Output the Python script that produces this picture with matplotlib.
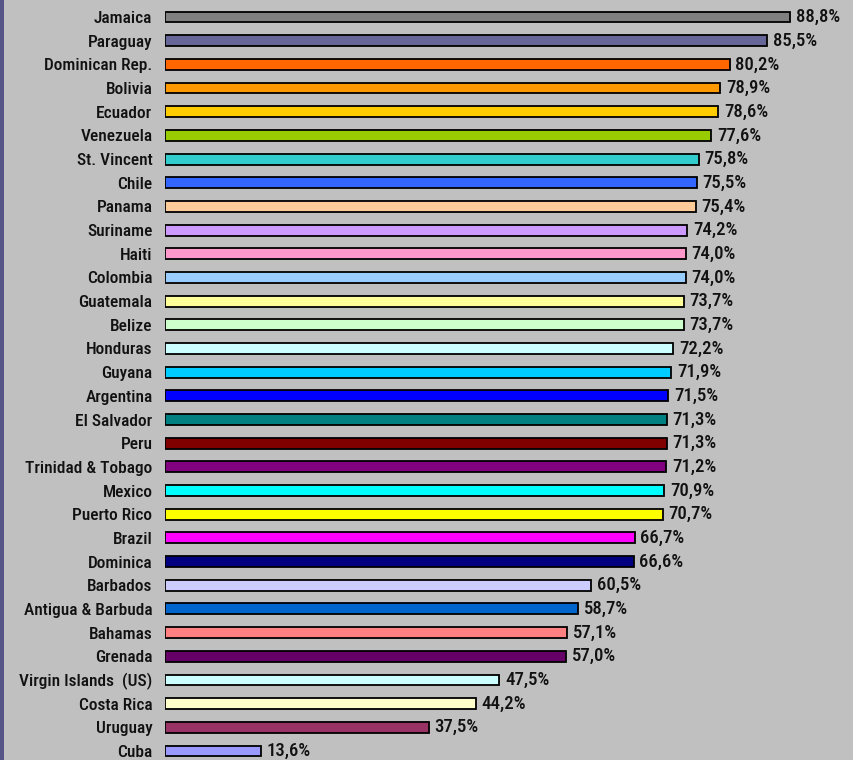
import matplotlib
matplotlib.use('Agg')
import matplotlib.pyplot as plt
from matplotlib.patches import Rectangle

countries = ['Jamaica', 'Paraguay', 'Dominican Rep.', 'Bolivia', 'Ecuador',
             'Venezuela', 'St. Vincent', 'Chile', 'Panama', 'Suriname',
             'Haiti', 'Colombia', 'Guatemala', 'Belize', 'Honduras',
             'Guyana', 'Argentina', 'El Salvador', 'Peru', 'Trinidad & Tobago',
             'Mexico', 'Puerto Rico', 'Brazil', 'Dominica', 'Barbados',
             'Antigua & Barbuda', 'Bahamas', 'Grenada', 'Virgin Islands  (US)',
             'Costa Rica', 'Uruguay', 'Cuba']
values = [88.8, 85.5, 80.2, 78.9, 78.6, 77.6, 75.8, 75.5, 75.4, 74.2,
          74.0, 74.0, 73.7, 73.7, 72.2, 71.9, 71.5, 71.3, 71.3, 71.2,
          70.9, 70.7, 66.7, 66.6, 60.5, 58.7, 57.1, 57.0, 47.5, 44.2,
          37.5, 13.6]
colors = ['#808080', '#666699', '#FF6600', '#FF9900', '#FFCC00',
          '#99CC00', '#33CCCC', '#3366FF', '#FFCC99', '#CC99FF',
          '#FF99CC', '#99CCFF', '#FFFF99', '#CCFFCC', '#CCFFFF',
          '#00CCFF', '#0000FF', '#008080', '#800000', '#800080',
          '#00FFFF', '#FFFF00', '#FF00FF', '#000080', '#CCCCFF',
          '#0066CC', '#FF8080', '#660066', '#CCFFFF', '#FFFFCC',
          '#993366', '#9999FF']

plt.rcParams['font.family'] = ['DejaVu Sans Condensed', 'Roboto Condensed',
                               'DejaVu Sans']
plt.rcParams['font.stretch'] = 'condensed'

fig = plt.figure(figsize=(8.54, 7.60), dpi=100)
fig.patch.set_facecolor('#c0c0c0')
fig.patches.append(Rectangle((0, 0), 4 / 854, 1, transform=fig.transFigure,
                             facecolor='#555588', edgecolor='none', zorder=5))

ax = fig.add_axes([165 / 854, 0, 1 - 165 / 854, 1])
ax.set_facecolor('#c0c0c0')

pos = list(range(len(countries)))
ax.barh(pos, values, height=0.46, color=colors, edgecolor='black', linewidth=1.3)

for i, v in enumerate(values):
    ax.text(v + 0.8, i, f'{v:.1f}%'.replace('.', ','), va='center', ha='left',
            fontsize=13.5, fontweight='medium', color='#111111')

ax.set_xlim(0, 689 / 7.04)
ax.set_ylim(31.38, -0.718)
ax.set_yticks(pos)
ax.set_yticklabels(countries, fontsize=12.5, fontweight='medium', color='#111111')
ax.tick_params(axis='y', length=0, pad=9)
ax.set_xticks([])
for s in ax.spines.values():
    s.set_visible(False)

fig.savefig('out.png', dpi=100, facecolor=fig.get_facecolor())
